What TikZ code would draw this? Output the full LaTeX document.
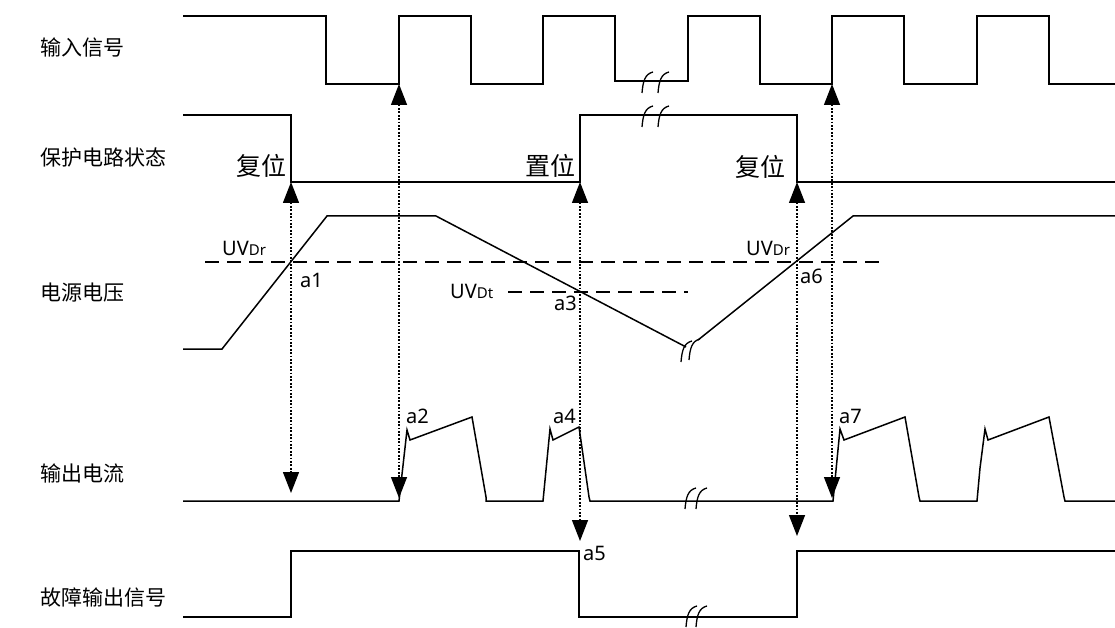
\documentclass[tikz,border=0pt]{standalone}
\usepackage{fontspec}
\setmainfont{Noto Sans}
\newfontfamily\cjk{Noto Sans CJK SC}
\usetikzlibrary{arrows.meta}
\begin{document}
\begin{tikzpicture}[x=1pt,y=-1pt,
 sig/.style={line width=1.5pt, line join=miter},
 thr/.style={line width=1.4pt, dash pattern=on 14pt off 8pt},
 evt/.style={line width=1.4pt, dash pattern=on 1.7pt off 1.7pt,
   {Triangle[length=21pt,width=16pt]}-{Triangle[length=21pt,width=16pt]}},
 rowlbl/.style={anchor=west, font=\cjk\fontsize{21}{21}\selectfont, inner sep=0pt},
 stlbl/.style={anchor=east, font=\cjk\fontsize{25}{25}\selectfont, inner sep=0pt},
 ptlbl/.style={anchor=base west, font=\fontsize{20}{20}\selectfont, inner sep=0pt},
 brkmark/.pic={\draw[line width=1.3pt] (0,12) .. controls (1,0) and (3,-7) .. (11,-9);}
]
\useasboundingbox (0,0) rectangle (1115,628);

% row labels
\node[rowlbl] (l1) at (40,48) {输入信号};
\node[rowlbl] (l2) at (40,158) {保护电路状态};
\node[rowlbl] (l3) at (40,293) {电源电压};
\node[rowlbl] (l4) at (40,473) {输出电流};
\node[rowlbl] (l5) at (40,598) {故障输出信号};

% input signal
\draw[sig] (183,16) -- (326,16) -- (326,84) -- (399,84) -- (399,16) -- (471,16) -- (471,84)
  -- (543,84) -- (543,16) -- (615,16) -- (615,81) -- (688,81) -- (688,16) -- (760,16)
  -- (760,84) -- (832,84) -- (832,16) -- (904,16) -- (904,84) -- (977,84) -- (977,16)
  -- (1049,16) -- (1049,84) -- (1115,84);
\pic at (642,81) {brkmark};
\pic at (658,81) {brkmark};

% protection state
\draw[sig] (183,115) -- (291,115) -- (291,182) -- (580,182) -- (580,115) -- (797,115)
  -- (797,182) -- (1115,182);
\pic at (642,115) {brkmark};
\pic at (658,115) {brkmark};
\node[stlbl] (s1) at (287,166) {复位};
\node[stlbl] (s2) at (576,166) {置位};
\node[stlbl] (s3) at (786,167) {复位};

% supply voltage
\draw[sig] (183,349) -- (222,349) -- (327,216) -- (436,216) -- (686,347);
\draw[sig] (698,340) -- (853,216) -- (1115,216);
\pic at (681,350) {brkmark};
\pic at (689,348) {brkmark};
\draw[thr] (205,262) -- (880,262);
\draw[thr] (508,292) -- (688,292);
\node[ptlbl] (u1) at (222,255) {UV{\fontsize{15}{15}\selectfont Dr}};
\node[ptlbl] (a1) at (300,287) {a1};
\node[ptlbl] (u2) at (450,298) {UV{\fontsize{15}{15}\selectfont Dt}};
\node[ptlbl] (a3) at (554,310) {a3};
\node[ptlbl] (u3) at (746,255) {UV{\fontsize{15}{15}\selectfont Dr}};
\node[ptlbl] (a6) at (800,283) {a6};

% output current
\draw[sig] (183,501) -- (399,501) -- (407,430) -- (410,440) -- (472,417) -- (486,497)
  -- (486,501) -- (543,501) -- (550,429) -- (553,440) -- (579,427) -- (589,497)
  -- (590,501) -- (833,501) -- (840,429) -- (844,440) -- (905,417) -- (919,497)
  -- (920,501) -- (977,501) -- (980,468) -- (985,429) -- (988,440) -- (1049,417)
  -- (1064,497) -- (1065,501) -- (1115,501);
\pic at (685,497) {brkmark};
\pic at (696,497) {brkmark};
\node[ptlbl] (a2) at (406,423) {a2};
\node[ptlbl] (a4) at (553,423) {a4};
\node[ptlbl] (a7) at (839,423) {a7};

% fault output
\draw[sig] (183,617) -- (291,617) -- (291,551) -- (579,551) -- (579,617) -- (797,617)
  -- (797,551) -- (1115,551);
\pic at (686,615) {brkmark};
\pic at (696,615) {brkmark};
\node[ptlbl] (a5) at (583,560) {a5};

% event arrows
\coordinate (e1t) at (291,182); \coordinate (e1b) at (291,493);
\coordinate (e2t) at (399,84);  \coordinate (e2b) at (399,498);
\coordinate (e3t) at (580,182); \coordinate (e3b) at (580,541);
\coordinate (e4t) at (797,182); \coordinate (e4b) at (797,536);
\coordinate (e5t) at (832,84);  \coordinate (e5b) at (832,498);
\draw[evt] (e1t) -- (e1b);
\draw[evt] (e2t) -- (e2b);
\draw[evt] (e3t) -- (e3b);
\draw[evt] (e4t) -- (e4b);
\draw[evt] (e5t) -- (e5b);
\end{tikzpicture}
\end{document}
